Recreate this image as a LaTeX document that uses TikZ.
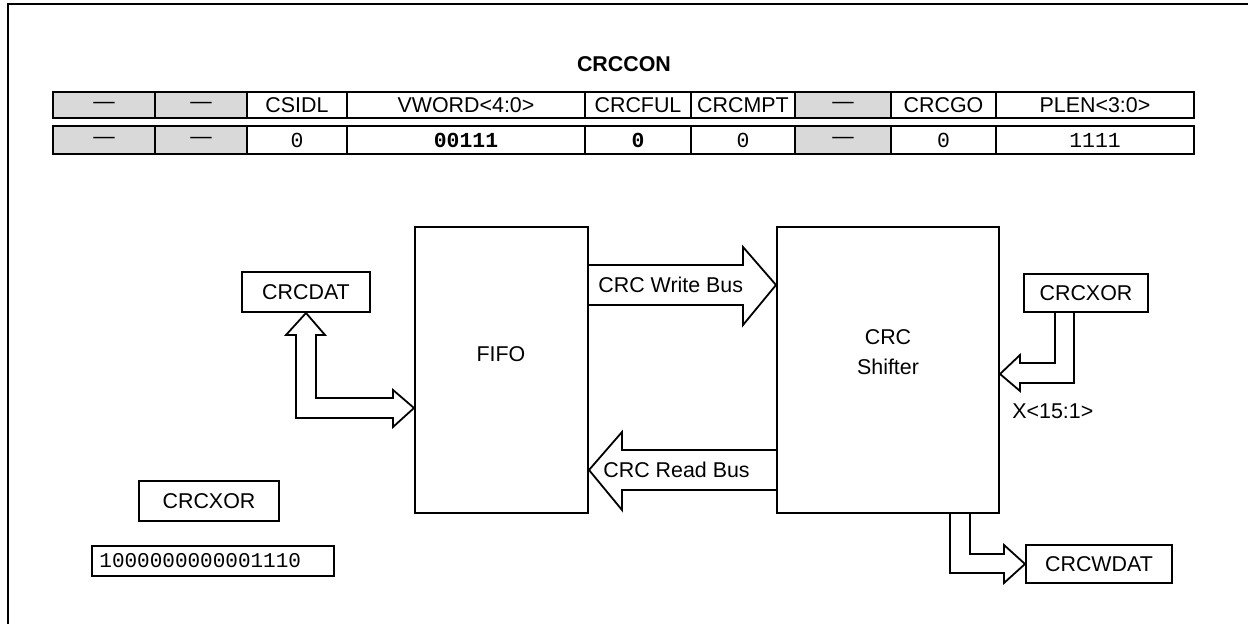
\documentclass[tikz,border=0pt]{standalone}
\usepackage{fontspec}
\setmainfont{Liberation Sans}
\setmonofont{Liberation Mono}
\definecolor{cg}{HTML}{D9D9D9}
\pgfdeclarelayer{bg}
\pgfsetlayers{bg,main}
\begin{document}
\begin{tikzpicture}[x=0.5pt,y=-0.5pt,
  every node/.style={font=\fontsize{10.7}{12.8}\selectfont, inner sep=0pt},
  box/.style={draw, line width=1pt, fill=white},
  cell/.style={draw, line width=1pt},
  bus/.style={draw, line width=0.9pt, fill=white, line join=miter},
  frame/.style={line width=1pt}]
\useasboundingbox (0,0) rectangle (1248,624);
% outer frame (only top and left edges visible)
\draw[frame] (8,624) -- (8,4) -- (1248,4);
% title
\node[font=\fontsize{10.7}{12.8}\selectfont\bfseries] (title) at (624,64) {CRCCON};
% register row (names)
\foreach \a/\b/\g/\t [count=\i] in {53/155/cg/{—}, 155/247/cg/{—}, 247/347/white/{CSIDL}, 347/585/white/{VWORD<4:0>}, 585/691/white/{CRCFUL}, 691/795/white/{CRCMPT}, 795/891/cg/{—}, 891/996/white/{CRCGO}, 996/1194/white/{PLEN<3:0>}} {
  \filldraw[cell, fill=\g] (\a,92) rectangle (\b,118);
  \node (h\i) at ({(\a+\b)/2},105) {\t};
}
% register row (values)
\foreach \a/\b/\g/\t [count=\i] in {53/155/cg/{—}, 155/247/cg/{—}, 247/347/white/{\ttfamily 0}, 347/585/white/{\ttfamily\bfseries 00111}, 585/691/white/{\ttfamily\bfseries 0}, 691/795/white/{\ttfamily 0}, 795/891/cg/{—}, 891/996/white/{\ttfamily 0}, 996/1194/white/{\ttfamily 1111}} {
  \filldraw[cell, fill=\g] (\a,126) rectangle (\b,154);
  \node (v\i) at ({(\a+\b)/2},140) {\t};
}
% main blocks
\node[box, minimum width=86.5pt, minimum height=143pt] (fifo) at (501.5,370) {};
\node (fifol) at (501,354) {FIFO};
\node[box, minimum width=111pt, minimum height=143pt] (shift) at (888,370) {};
\node[align=center] (shiftl) at (888,352) {CRC\\[2pt]Shifter};
\node[box, minimum width=64pt, minimum height=20pt] (crcdat) at (306,292) {CRCDAT};
\node[box, minimum width=62pt, minimum height=19pt] (xorr) at (1086,293) {CRCXOR};
\node[box, minimum width=73pt, minimum height=19pt] (wdat) at (1099,564) {CRCWDAT};
\node[box, minimum width=70pt, minimum height=20pt] (xorl) at (209,501) {CRCXOR};
\node[box, minimum width=121pt, minimum height=15pt] (xorval) at (213,561) {};
\node[anchor=west, font=\fontsize{10.5}{12}\selectfont\ttfamily] (xorvall) at (99,561) {1000000000001110};
\begin{pgfonlayer}{bg}
% CRC write bus
\draw[bus] (fifo.east |- 0,265) -- (743,265) -- (743,247) -- (shift.west |- 0,285) -- (743,325) -- (743,305) -- (fifo.east |- 0,305);
% CRC read bus
\draw[bus] (shift.west |- 0,450) -- (622,450) -- (622,432) -- (fifo.east |- 0,470) -- (622,510) -- (622,490) -- (shift.west |- 0,490);
% CRCDAT <-> FIFO
\draw[bus] (crcdat.south) -- (325,335) -- (316,335) -- (316,398) -- (393,398) -- (393,390) -- (fifo.west |- 0,408) -- (393,427) -- (393,418) -- (296,418) -- (296,335) -- (286,335) -- cycle;
% CRCXOR -> shifter
\draw[bus] (1055,312) -- (1055,363) -- (1020,363) -- (1020,355) -- (shift.east |- 0,374) -- (1020,391) -- (1020,383) -- (1074,383) -- (1074,312);
% shifter -> CRCWDAT
\draw[bus] (950,513) -- (950,573) -- (1004,573) -- (1004,583) -- (wdat.west) -- (1004,545) -- (1004,554) -- (970,554) -- (970,513);
\end{pgfonlayer}
\node[anchor=west] (wbus) at (598,285) {CRC Write Bus};
\node[anchor=west] (rbus) at (603,470) {CRC Read Bus};
\node[anchor=west] (xlab) at (1012,411) {X<15:1>};
\end{tikzpicture}
\end{document}
